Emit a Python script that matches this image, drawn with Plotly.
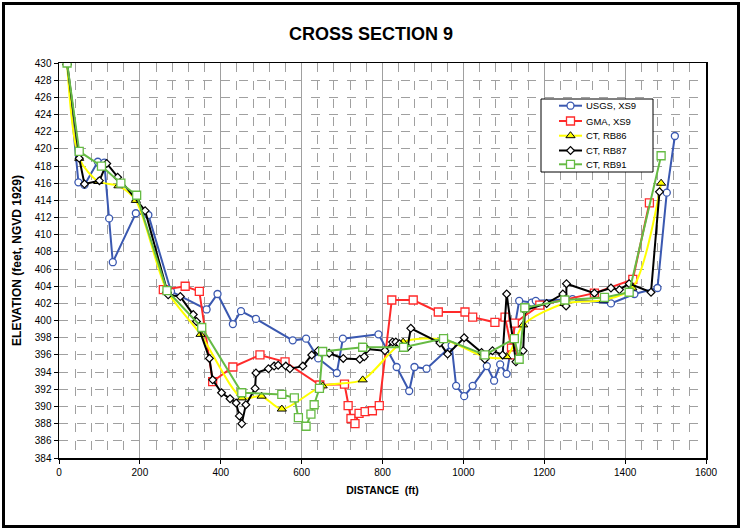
import plotly.graph_objects as go

# ---- data (distance ft, elevation ft) ----
usgs_x = [20, 48, 63, 96, 112, 124, 133, 190, 221, 277, 365, 392, 430, 450, 487, 578, 611, 641, 687, 702, 790,
          835, 866, 879, 909, 971, 982, 1002, 1023, 1058, 1076, 1091, 1107, 1138, 1169, 1179, 1270, 1365, 1423,
          1480, 1503, 1523]
usgs_y = [430, 416.1, 415.8, 418.5, 418.4, 411.9, 406.8, 412.5, 412.3, 403.4, 401.3, 403.1, 399.6, 401.1, 400.2,
          397.7, 397.9, 395.6, 393.9, 397.9, 398.4, 394.6, 391.8, 394.6, 394.4, 397.1, 392.4, 391.2, 392.4, 394.7,
          393.0, 394.9, 393.8, 402.3, 402.1, 402.3, 402.5, 402.0, 403.1, 403.8, 414.9, 421.5]

gma_x = [258, 312, 347, 380, 430, 497, 559, 645, 706, 715, 722, 732, 742, 757, 775, 792,
         823, 876, 938, 1004, 1023, 1078, 1103, 1119, 1122, 1126, 1189, 1324, 1419, 1460]
gma_y = [403.6, 404.0, 403.4, 392.9, 394.6, 396.0, 395.2, 392.5, 392.6, 390.1,
         388.6, 388.0, 389.2, 389.4, 389.5, 390.1, 402.4, 402.4, 401.0, 401.0, 400.4, 399.8, 400.4, 396.8, 396.0,
         399.7, 401.8, 403.2, 404.8, 413.7]

rb86_x = [20, 50, 97, 147, 190, 267, 350, 452, 501, 551, 652, 751, 851, 950, 1053, 1107, 1148, 1250, 1348, 1418,
          1489]
rb86_y = [430, 418.9, 416.2, 415.7, 414.0, 403.5, 398.4, 391.0, 391.2, 389.7, 392.4, 393.1, 397.5, 397.8, 395.8,
          395.8, 399.5, 402.0, 402.4, 403.8, 416.0]

rb87_x = [20, 50, 63, 100, 118, 145, 213, 270, 300, 332, 340, 372, 380, 402, 423, 438, 446, 452, 462, 485, 487,
          518, 532, 542, 561, 571, 603, 625, 641, 668, 703, 744, 755, 761, 806, 825, 833, 842, 862, 870, 942, 961,
          1002, 1045, 1053, 1072, 1097, 1107, 1130, 1148, 1152, 1206, 1246, 1254, 1255, 1324, 1365, 1386, 1410,
          1464, 1485]
rb87_y = [430, 418.9, 415.9, 416.3, 418.3, 416.7, 412.8, 403.0, 402.8, 400.7, 399.9, 395.6, 393.1, 391.6, 390.9,
          390.4, 388.9, 388.0, 390.2, 392.1, 393.9, 394.4, 394.7, 394.8, 394.7, 394.4, 394.7, 396.0, 396.5, 396.2,
          395.6, 395.5, 395.8, 396.7, 396.5, 397.5, 397.5, 397.3, 396.9, 399.1, 397.4, 396.1, 398.0, 396.3, 395.5,
          396.5, 396.0, 403.1, 395.2, 396.5, 401.2, 402.0, 403.1, 401.7, 404.3, 403.2, 403.8, 403.6, 404.3, 403.3,
          415.0]

rb91_x = [20, 50, 105, 153, 192, 267, 353, 452, 551, 582, 592, 611, 623, 631, 644, 652, 751, 852, 951, 1053,
          1126, 1138, 1152, 1251, 1349, 1410, 1489]
rb91_y = [430, 419.7, 418.0, 416.0, 414.6, 403.5, 399.2, 391.6, 391.4, 391.0, 388.7, 387.7, 389.1, 390.2, 392.1,
          396.4, 396.9, 396.9, 397.9, 396.0, 397.9, 395.5, 401.5, 402.4, 402.7, 403.3, 419.2]

names = ["USGS, XS9", "GMA, XS9", "CT, RB86", "CT, RB87", "CT, RB91"]

BLUE, RED, YEL, BLK, GRN = "#3A58B0", "#FF2A2A", "#FFFF00", "#000000", "#66BB44"
styles = [
    dict(line=dict(color=BLUE, width=2),
         marker=dict(symbol="circle", size=7, color="white", line=dict(color=BLUE, width=1.3))),
    dict(line=dict(color=RED, width=2),
         marker=dict(symbol="square", size=8, color="white", line=dict(color=RED, width=1.3))),
    dict(line=dict(color=YEL, width=2, shape="spline", smoothing=0.8),
         marker=dict(symbol="triangle-up", size=8, color=YEL, line=dict(color="black", width=1))),
    dict(line=dict(color=BLK, width=2),
         marker=dict(symbol="diamond", size=6, color="white", line=dict(color=BLK, width=1.2))),
    dict(line=dict(color=GRN, width=2),
         marker=dict(symbol="square", size=8, color="white", line=dict(color=GRN, width=1.3))),
]
series = [(usgs_x, usgs_y), (gma_x, gma_y), (rb86_x, rb86_y), (rb87_x, rb87_y), (rb91_x, rb91_y)]

fig = go.Figure()
for (sx, sy), nm, st in zip(series, names, styles):
    fig.add_trace(go.Scatter(x=sx, y=sy, name=nm, mode="lines+markers", showlegend=False, **st))

# ---- custom legend drawn on an overlay axis measured in page pixels ----
PL, PR, PT, PB = 59, 706, 63, 458
leg_left, leg_right, leg_top, leg_bot = 541, 653, 99, 172
row_y = [105.7, 121, 135.7, 150.5, 164.3]

fig.add_trace(go.Scatter(x=[leg_left, leg_right, leg_right, leg_left, leg_left],
                         y=[leg_top, leg_top, leg_bot, leg_bot, leg_top],
                         mode="lines", fill="toself", fillcolor="white", line=dict(color="black", width=1),
                         xaxis="x2", yaxis="y2", showlegend=False, hoverinfo="skip"))
for nm, st, yc in zip(names, styles, row_y):
    lst = dict(st["line"])
    lst.pop("shape", None)
    lst.pop("smoothing", None)
    fig.add_trace(go.Scatter(x=[559, 582], y=[yc, yc], mode="lines", line=lst, xaxis="x2", yaxis="y2",
                             showlegend=False, hoverinfo="skip"))
    fig.add_trace(go.Scatter(x=[570.5], y=[yc], mode="markers", marker=st["marker"], xaxis="x2", yaxis="y2",
                             showlegend=False, hoverinfo="skip"))

font_family = "Liberation Sans, Arial, sans-serif"

annotations = [dict(x=584, y=yc, xref="x2", yref="y2", text=nm, showarrow=False, xanchor="left",
                    yanchor="middle", font=dict(size=9.5, family=font_family, color="black"))
               for nm, yc in zip(names, row_y)]

fig.update_layout(
    width=742, height=530,
    margin=dict(l=PL, r=742 - PR, t=PT, b=530 - PB),
    paper_bgcolor="white", plot_bgcolor="white",
    font=dict(family=font_family, size=10, color="black"),
    title=dict(text="<b>CROSS SECTION 9</b>", x=0.5, xanchor="center", y=1 - 33.5 / 530, yanchor="middle",
               font=dict(size=18, family=font_family, color="black")),
    showlegend=False,
    annotations=annotations,
    xaxis2=dict(overlaying="x", range=[PL, PR], visible=False, fixedrange=True),
    yaxis2=dict(overlaying="y", range=[PB, PT], visible=False, fixedrange=True),
    shapes=[
        dict(type="rect", xref="paper", yref="paper",
             x0=(3.5 - PL) / (PR - PL), x1=(738.5 - PL) / (PR - PL),
             y0=(PB - 526.5) / (PB - PT), y1=(PB - 3.5) / (PB - PT),
             line=dict(color="black", width=3), fillcolor="rgba(0,0,0,0)", layer="below"),
    ],
)

fig.layout.xaxis.update(range=[0, 1600], dtick=200, tick0=0, showgrid=True, gridcolor="#A0A0A0", gridwidth=1,
                        minor=dict(dtick=40, showgrid=True, gridcolor="#A0A0A0", griddash="dash", gridwidth=1,
                                   ticks=""),
                        showline=True, linecolor="black", linewidth=1.5, mirror=True,
                        ticks="outside", ticklen=4, tickcolor="black", zeroline=False,
                        title=dict(text="<b>DISTANCE  (ft)</b>", font=dict(size=10.5), standoff=10),
                        tickfont=dict(size=10))
fig.layout.yaxis.update(range=[384, 430], dtick=2, tick0=384, showgrid=True, gridcolor="#A0A0A0", gridwidth=1,
                        griddash="dash",
                        showline=True, linecolor="black", linewidth=1.5, mirror=True,
                        ticks="outside", ticklen=4, tickcolor="black", zeroline=False,
                        title=dict(text="<b>ELEVATION (feet, NGVD 1929)</b>", font=dict(size=12), standoff=10),
                        tickfont=dict(size=10))

fig.write_html("out.html", config={"displayModeBar": False, "staticPlot": True},
               post_script="document.body.style.margin='0';document.body.style.overflow='hidden';")
